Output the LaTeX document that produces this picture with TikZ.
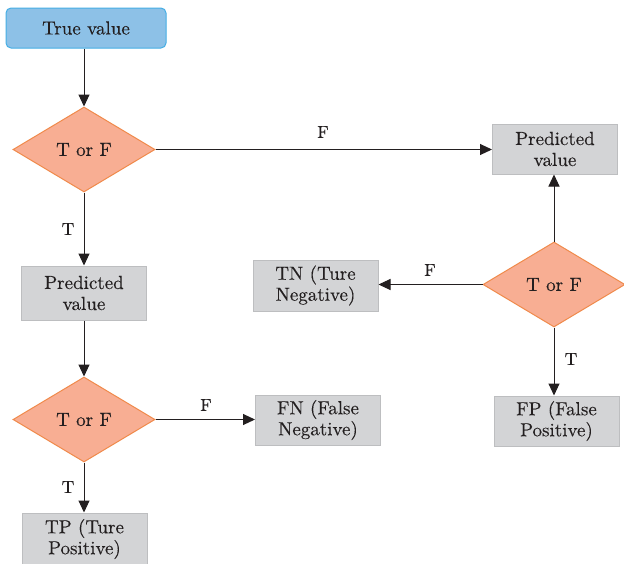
\documentclass[tikz,border=0pt]{standalone}
\usepackage{fontspec}
\newfontfamily\diagfont{lmroman10-regular.otf}[FakeBold=0.2]
\usetikzlibrary{shapes.geometric,arrows.meta}
\definecolor{bluefill}{HTML}{8DC1E7}
\definecolor{blueline}{HTML}{45AEE5}
\definecolor{salmonfill}{HTML}{F8AE93}
\definecolor{salmonline}{HTML}{F08A4B}
\definecolor{grayfill}{HTML}{D3D4D6}
\definecolor{grayline}{HTML}{BDBEC0}
\definecolor{inkc}{HTML}{231F20}
\begin{document}
\begin{tikzpicture}[x=1pt,y=-1pt,
  every node/.style={font=\diagfont\fontsize{19pt}{21pt}\selectfont, text=inkc},
  startbox/.style={draw=blueline, fill=bluefill, line width=1pt, rounded corners=5pt,
     minimum width=160pt, minimum height=40pt, inner sep=0pt},
  decision/.style={diamond, draw=salmonline, fill=salmonfill, line width=1pt,
     minimum width=142pt, minimum height=85pt, inner sep=0pt},
  outbox/.style={draw=grayline, fill=grayfill, line width=1pt,
     minimum width=125pt, minimum height=50pt, inner sep=0pt, align=center},
  lbl/.style={font=\diagfont\fontsize{17.5pt}{20pt}\selectfont, inner sep=0pt},
  arr/.style={draw=inkc, line width=1pt, -{Triangle[length=12pt,width=11pt]}}]
\useasboundingbox[fill=white] (0,0) rectangle (624,563);
\node[startbox] (start) at (86,28) {True value};
\node[decision] (d1) at (84,149.5) {T or F};
\node[outbox] (pv1) at (555,149) {Predicted\\value};
\node[outbox, minimum height=54pt] (pv2) at (84,293) {Predicted\\value};
\node[decision] (d2) at (84,419.5) {T or F};
\node[outbox] (fn) at (318,420) {FN (False\\Negative)};
\node[outbox, minimum height=52pt] (tp) at (84.5,539) {TP (Ture\\Positive)};
\node[decision] (d3) at (554,284.5) {T or F};
\node[outbox, minimum height=51pt] (tn) at (315.5,285.5) {TN (Ture\\Negative)};
\node[outbox] (fp) at (556.5,421) {FP (False\\Positive)};

\draw[arr] (start.south -| d1.north) -- (d1.north);
\draw[arr] (d1.east) -- (d1.east -| pv1.west);
\node[lbl] (lf1) at (323,132) {F};
\draw[arr] (d1.south) -- (d1.south |- pv2.north);
\node[lbl] (lt1) at (68,229) {T};
\draw[arr] (pv2.south -| d2.north) -- (d2.north);
\draw[arr] (d2.east) -- (d2.east -| fn.west);
\node[lbl] (lf2) at (206,405) {F};
\draw[arr] (d2.south) -- (d2.south |- tp.north);
\node[lbl] (lt2) at (68,487) {T};
\draw[arr] (d3.north) -- (d3.north |- pv1.south);
\draw[arr] (d3.west) -- (d3.west -| tn.east);
\node[lbl] (lf3) at (430,270) {F};
\draw[arr] (d3.south) -- (d3.south |- fp.north);
\node[lbl] (lt3) at (571,359) {T};
\end{tikzpicture}
\end{document}
